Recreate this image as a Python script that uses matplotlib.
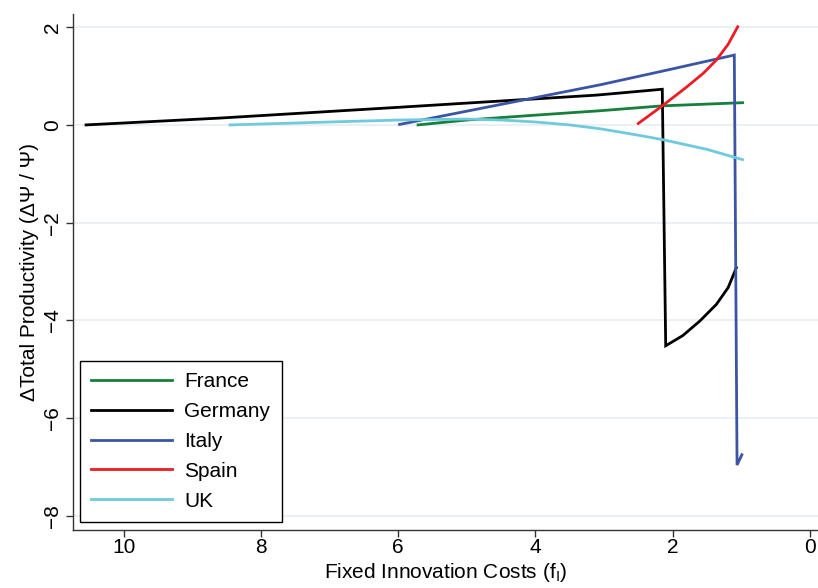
import matplotlib
matplotlib.use("Agg")
import matplotlib.pyplot as plt

plt.rcParams['font.family'] = ['Liberation Sans', 'DejaVu Sans']
plt.rcParams['mathtext.fontset'] = 'custom'
plt.rcParams['mathtext.rm'] = 'Liberation Sans'

# curves (x = fixed innovation cost, y = change in productivity)
france_x = [5.71, 5.0, 4.0, 3.06, 2.15, 0.98]
france_y = [0.0, 0.10, 0.20, 0.29, 0.39, 0.455]

germany_x = [10.55, 8.6, 6.0, 3.11, 2.15, 2.10, 1.85, 1.60, 1.36, 1.19, 1.07]
germany_y = [0.0, 0.14, 0.36, 0.61, 0.73, -4.52, -4.31, -4.01, -3.67, -3.33, -2.92]

italy_x = [5.98, 4.5, 3.06, 2.15, 1.10, 1.06, 0.99]
italy_y = [0.01, 0.42, 0.82, 1.10, 1.43, -6.96, -6.75]

spain_x = [2.50, 2.15, 1.80, 1.55, 1.36, 1.19, 1.05]
spain_y = [0.03, 0.39, 0.77, 1.06, 1.33, 1.65, 2.01]

uk_x = [8.45, 7.0, 6.0, 5.0, 4.5, 4.0, 3.5, 3.05, 2.5, 2.15, 1.5, 0.98]
uk_y = [0.0, 0.06, 0.10, 0.12, 0.10, 0.06, 0.0, -0.08, -0.21, -0.30, -0.5, -0.71]

xticks = [10, 8, 6, 4, 2, 0]
yticks = [2, 0, -2, -4, -6, -8]

fig = plt.figure(figsize=(8.18, 5.88), dpi=100)
ax = fig.add_axes([73 / 818, 58 / 588, 745 / 818, 516 / 588])

series = [
    ('France', france_x, france_y, '#157f3b'),
    ('Germany', germany_x, germany_y, 'black'),
    ('Italy', italy_x, italy_y, '#3b54a5'),
    ('Spain', spain_x, spain_y, '#ec1c24'),
    ('UK', uk_x, uk_y, '#6fcadc'),
]
for name, xs, ys, col in series:
    ax.plot(xs, ys, color=col, lw=2.0, label=name, solid_joinstyle='miter')

ax.set_xlim(10.74, -0.12)
ax.set_ylim(-8.29, 2.27)
ax.set_xticks(xticks)
ax.set_yticks(yticks)
ax.set_yticklabels([str(t).replace('-', '\u2212') for t in yticks], rotation=90, va='center')
ax.set_xticklabels([str(t) for t in xticks])

for t in yticks:
    ax.axhline(t, color='#e8eff2', lw=1.3, zorder=0)

for s in ['top', 'right']:
    ax.spines[s].set_visible(False)
for s in ['left', 'bottom']:
    ax.spines[s].set_color('#333333')
    ax.spines[s].set_linewidth(1.0)

ax.tick_params(axis='both', direction='out', length=5, width=1, color='#333333', labelsize=15)
ax.tick_params(axis='x', pad=1)
ax.tick_params(axis='y', pad=3)

ax.set_xlabel('Fixed Innovation Costs (f$_\\mathregular{I}$)', fontsize=15, labelpad=3)
ax.set_ylabel('\u0394Total Productivity (\u0394\u03a8 / \u03a8)', fontsize=15)
ax.yaxis.set_label_coords(-0.046, 0.5)

leg = ax.legend(loc='lower left', bbox_to_anchor=(0.0094, 0.0155), borderaxespad=0,
                fontsize=15, handlelength=3.85, handletextpad=0.6, labelspacing=0.52,
                borderpad=0.55, fancybox=False, framealpha=1, edgecolor='black')
leg.get_frame().set_linewidth(1.0)

fig.savefig('out.png', dpi=100)
